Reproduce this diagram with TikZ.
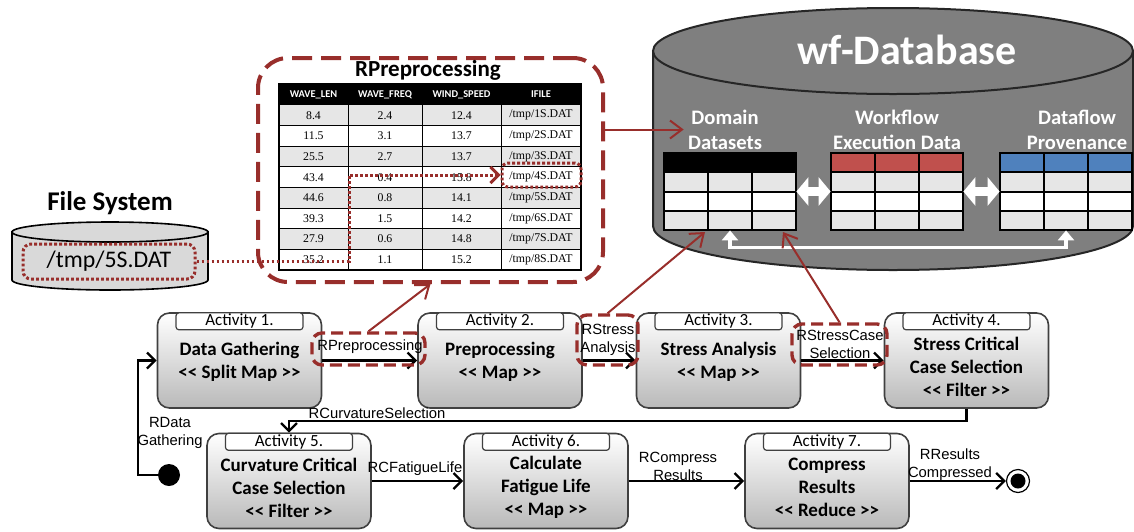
\documentclass[tikz,border=0pt]{standalone}
\usepackage{fontspec}
\setmainfont{Carlito}
\newfontfamily\arialf{Liberation Sans}
\newfontfamily\serf{Liberation Serif}
\usetikzlibrary{arrows.meta,calc}
\definecolor{dred}{RGB}{152,46,43}
\definecolor{dbgray}{RGB}{127,127,127}
\definecolor{dbline}{RGB}{38,38,38}
\definecolor{hred}{RGB}{192,80,77}
\definecolor{hblue}{RGB}{79,129,189}
\definecolor{rowgray}{RGB}{230,230,230}
\definecolor{actline}{RGB}{64,64,64}
\definecolor{fsgray}{RGB}{217,217,217}
\newcommand\dlt{<\kern0pt<}
\newcommand\dgt{>\kern0pt>}
\newcommand\dbtab[3]{%
  \fill[rowgray] (#1,172) rectangle ++(132,20);
  \fill[white] (#1,192) rectangle ++(132,19);
  \fill[rowgray] (#1,211) rectangle ++(132,19);
  \fill[#2] (#1,153) rectangle ++(132,19);
  \draw[line width=1pt] (#1,172) -- ++(132,0) (#1,192) -- ++(132,0) (#1,211) -- ++(132,0)
     (#1+44,153) -- ++(0,77) (#1+88,153) -- ++(0,77);
  \draw[line width=1pt] (#1,153) rectangle ++(132,77);
  \node[minimum width=66pt,minimum height=38.5pt,inner sep=0pt] (#3) at (#1+66,191.5) {};
}
\begin{document}
\begin{tikzpicture}[x=0.5pt,y=-0.5pt,
  actbox/.style={draw=actline, line width=0.8pt, rounded corners=6pt, top color=white, bottom color=gray!55, minimum width=82pt, minimum height=47.5pt, inner sep=0pt},
  acttab/.style={draw=actline, line width=0.6pt, fill=white, rounded corners=1.5pt, minimum width=63.5pt, minimum height=8.5pt, inner sep=0pt, anchor=north, font=\fontsize{8.5}{9}\selectfont},
  acttxt/.style={align=center, font=\bfseries\fontsize{9.5}{11.5}\selectfont, inner sep=0pt},
  flow/.style={draw=black, line width=1.2pt, -{Straight Barb[length=4pt,width=8pt]}},
  flowlab/.style={font=\arialf\fontsize{7.4}{9}\selectfont, align=center, inner sep=0pt},
  reddash/.style={draw=dred, line width=1.7pt, dash pattern=on 6pt off 3pt, rounded corners=5pt, inner sep=0pt},
  bigdash/.style={draw=dred, line width=2pt, dash pattern=on 10pt off 4.5pt, rounded corners=15pt, inner sep=0pt},
  redline/.style={draw=dred, line width=1pt, -{Straight Barb[length=6pt,width=9pt]}},
  reddot/.style={draw=dred, line width=1.5pt, dash pattern=on 1.4pt off 1.1pt},
  dblab/.style={text=white, align=center, font=\bfseries\fontsize{10.3}{12.5}\selectfont, inner sep=2pt},
  cell/.style={font=\serf\fontsize{5.9}{7}\selectfont, inner sep=0pt},
  hcell/.style={font=\bfseries\fontsize{5.2}{6}\selectfont, text=white, inner sep=0pt}]
\path[use as bounding box] (0,0) rectangle (1134,531);

% ---------- wf-Database cylinder
\path[fill=dbgray,draw=dbline,line width=1pt] (653,51) -- (653,226) arc[start angle=180,end angle=0,x radius=240,y radius=44] -- (1133,51) -- cycle;
\draw[fill=dbgray,draw=dbline,line width=1pt] (893,51) ellipse [x radius=240,y radius=43];
\node[font=\bfseries\fontsize{21}{24}\selectfont, text=white] (dbtitle) at (907,50) {wf-Database};
\node[dblab] (dlab) at (725,129.5) {Domain\\Datasets};
\node[dblab] (wlab) at (897,129.5) {Workflow\\Execution Data};
\node[dblab] (plab) at (1077,129.5) {Dataflow\\Provenance};
\dbtab{664}{black}{dtab}
\dbtab{831}{hred}{wtab}
\dbtab{1000}{hblue}{ptab}
\draw[white, line width=4.5pt, {Triangle[width=14pt,length=6pt]}-{Triangle[width=14pt,length=6pt]}] (dtab.east) -- (wtab.west);
\draw[white, line width=4.5pt, {Triangle[width=14pt,length=6pt]}-{Triangle[width=14pt,length=6pt]}] (wtab.east) -- (ptab.west);
\draw[white, line width=1.8pt, {Triangle[width=8pt,length=5pt]}-{Triangle[width=8pt,length=5pt]}] (dtab.south) -- ++(0,17) -| (ptab.south);

% ---------- File System
\node[font=\bfseries\fontsize{13.5}{15}\selectfont] (fstitle) at (110,203) {File System};
\path[fill=fsgray,draw=black,line width=0.8pt] (12,232) -- (12,280) arc[start angle=180,end angle=0,x radius=98,y radius=10] -- (208,232) -- cycle;
\draw[fill=fsgray,draw=black,line width=0.8pt] (110,232) ellipse [x radius=98,y radius=10];
\node[reddot, rounded corners=4pt, minimum width=86pt, minimum height=17.5pt, inner sep=0pt, font=\fontsize{11.9}{14}\selectfont] (fsb) at (109,261.5) {/tmp/5S.DAT};

% ---------- RPreprocessing relation
\node[bigdash, minimum width=172.5pt, minimum height=112pt] (rbox) at (430.5,170) {};
\node[font=\bfseries\fontsize{11.5}{13}\selectfont] (rtitle) at (428,70) {RPreprocessing};
\fill[black] (279,84) rectangle (581,105);
\foreach \r in {0,2,4,6} \fill[rowgray] (279,{105+\r*20.625}) rectangle (581,{105+(\r+1)*20.625});
\foreach \r in {1,...,7} \draw[line width=0.5pt] (279,{105+\r*20.625}) -- (581,{105+\r*20.625});
\foreach \x in {348,422,501} \draw[line width=0.5pt] (\x,105) -- (\x,270);
\draw[line width=0.6pt] (279,84) rectangle (581,270);
\node[hcell] (h1) at (313.5,94.5) {WAVE\_LEN};
\node[hcell] (h2) at (385,94.5) {WAVE\_FREQ};
\node[hcell] (h3) at (461.5,94.5) {WIND\_SPEED};
\node[hcell] (h4) at (541,94.5) {IFILE};
\foreach \va/\vb/\vc/\fn [count=\r] in {8.4/2.4/12.4/1, 11.5/3.1/13.7/2, 25.5/2.7/13.7/3, 43.4/0.4/15.8/4, 44.6/0.8/14.1/5, 39.3/1.5/14.2/6, 27.9/0.6/14.8/7, 35.2/1.1/15.2/8}{
  \node[cell] (t\r-1) at (313.5,{105+(\r-0.5)*20.625}) {\va};
  \node[cell] (t\r-2) at (385,{105+(\r-0.5)*20.625}) {\vb};
  \node[cell] (t\r-3) at (461.5,{105+(\r-0.5)*20.625}) {\vc};
  \node[cell] (t\r-4) at (541,{105+(\r-0.5)*20.625}) {/tmp/\fn S.DAT};
}
\node[reddot, rounded corners=3pt, minimum width=39.5pt, minimum height=12pt, inner sep=0pt] (c4box) at (541.5,175) {};
\coordinate (dp) at (349,261.5);
\draw[reddot, -{Straight Barb[length=4pt,width=8pt]}] (fsb.east) -- (dp) |- (c4box.west);

% ---------- Activities
\node[actbox] (a1) at (239.5,360.5) {};
\node[actbox] (a2) at (500,360.5) {};
\node[actbox] (a3) at (718.5,360.5) {};
\node[actbox] (a4) at (966.5,360.5) {};
\node[actbox] (a5) at (289,481) {};
\node[actbox] (a6) at (546,481) {};
\node[actbox] (a7) at (827,481) {};
\node[acttab] (a1t) at (a1.north) {Activity 1.};
\node[acttab] (a2t) at (a2.north) {Activity 2.};
\node[acttab] (a3t) at (a3.north) {Activity 3.};
\node[acttab] (a4t) at (a4.north) {Activity 4.};
\node[acttab] (a5t) at (a5.north) {Activity 5.};
\node[acttab] (a6t) at (a6.north) {Activity 6.};
\node[acttab] (a7t) at (a7.north) {Activity 7.};
\node[acttxt] (a1x) at ([yshift=-0.5pt]a1.center) {Data Gathering\\{\dlt} Split Map {\dgt}};
\node[acttxt] (a2x) at ([yshift=-0.5pt]a2.center) {Preprocessing\\{\dlt} Map {\dgt}};
\node[acttxt] (a3x) at ([yshift=-0.5pt]a3.center) {Stress Analysis\\{\dlt} Map {\dgt}};
\node[acttxt] (a4x) at ([yshift=-3.25pt]a4.center) {Stress Critical\\Case Selection\\{\dlt} Filter {\dgt}};
\node[acttxt] (a5x) at ([yshift=-3.25pt]a5.center) {Curvature Critical\\Case Selection\\{\dlt} Filter {\dgt}};
\node[acttxt] (a6x) at ([yshift=-3.25pt]a6.center) {Calculate\\Fatigue Life\\{\dlt} Map {\dgt}};
\node[acttxt] (a7x) at ([yshift=-3.25pt]a7.center) {Compress\\Results\\{\dlt} Reduce {\dgt}};

\node[circle, fill=black, minimum size=11pt, inner sep=0pt] (start) at (169,475) {};
\node[circle, draw=black, fill=white, line width=0.6pt, minimum size=11.5pt, inner sep=0pt] (final) at (1018,481) {};
\node[circle, fill=black, minimum size=7.5pt, inner sep=0pt] (finalin) at (final) {};

% ---------- control flow
\coordinate (lp) at (138,475);
\draw[flow] (start) -- (lp) |- (a1);
\draw[flow] (a1) -- (a2);
\draw[flow] (a2) -- (a3);
\draw[flow] (a3) -- (a4);
\coordinate (c45) at (966.5,421);
\draw[flow] (a4.south) -- (c45) -| (a5.north);
\draw[flow] (a5) -- (a6);
\draw[flow] (a6) -- (a7);
\draw[flow] (a7) -- (final);
\node[flowlab] (l0) at (170,433) {RData\\Gathering};
\node[flowlab] (l12) at (370,347) {RPreprocessing};
\node[flowlab] (l23) at (608,340) {RStress\\Analysis};
\node[flowlab] (l34) at (840,344) {RStressCase\\Selection};
\node[flowlab] (l45) at (377,413) {RCurvatureSelection};
\node[flowlab] (l56) at (415,469) {RCFatigueLife};
\node[flowlab] (l67) at (678,466) {RCompress\\Results};
\node[flowlab] (l7f) at (950,465) {RResults\\Compressed};

% ---------- red relation marks
\node[reddash, minimum width=56.5pt, minimum height=16pt] (rp) at (368.5,349) {};
\node[reddash, minimum width=30.5pt, minimum height=25pt] (rsa) at (607.5,340) {};
\node[reddash, minimum width=47.5pt, minimum height=20.5pt] (rsc) at (839.5,344.5) {};
\coordinate (dt1) at (705,232);
\coordinate (dt2) at (783,232);
\draw[redline] (rp.north) -- (rbox.south);
\draw[redline] (rbox.east |- dlab.west) -- (dlab.west);
\draw[redline] (rsa.north) -- (dt1);
\draw[redline] (rsc.north) -- (dt2);
\end{tikzpicture}
\end{document}
